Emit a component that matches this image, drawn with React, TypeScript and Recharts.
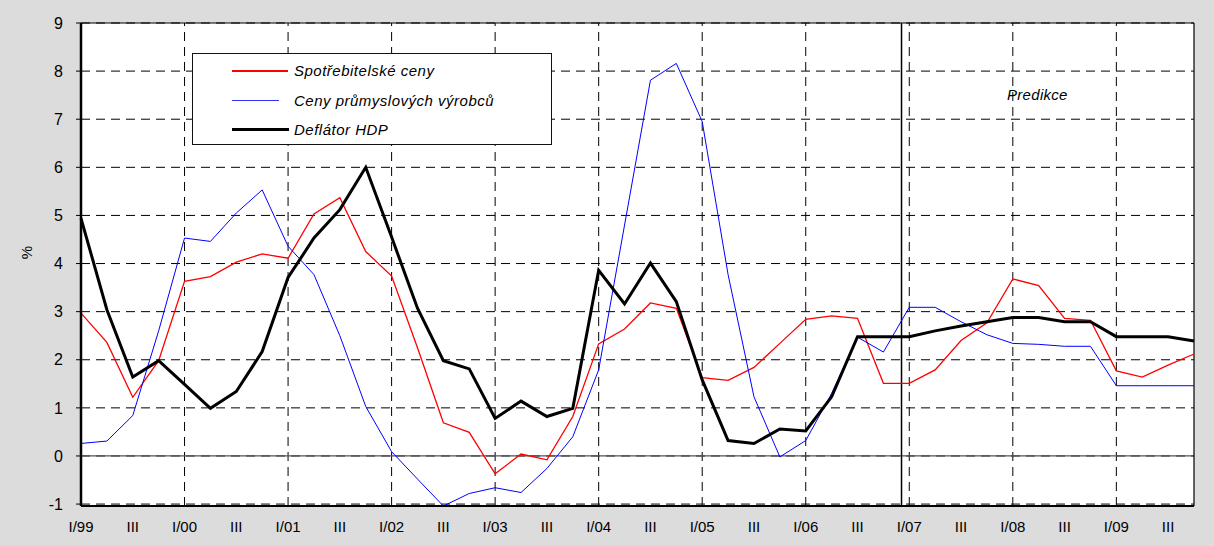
import React from "react";
import {
  LineChart, Line, XAxis, YAxis, CartesianGrid, ReferenceLine
} from "recharts";

// quarters I/99 .. IV/09
const quarterIdx = Array.from({ length: 44 }, (_, i) => i);
const years = ["99", "00", "01", "02", "03", "04", "05", "06", "07", "08", "09"];
const xTicks = [0, 2, 4, 6, 8, 10, 12, 14, 16, 18, 20, 22, 24, 26, 28, 30, 32, 34, 36, 38, 40, 42];
const yearLines = [4, 8, 12, 16, 20, 24, 28, 32, 36, 40];
const yTicks = [-1, 0, 1, 2, 3, 4, 5, 6, 7, 8, 9];
const forecastStart = 31.7;

const spotrebitelske = [
  2.97, 2.36, 1.22, 1.98, 3.63, 3.73, 4.03, 4.2, 4.11, 5.03, 5.37,
  4.25, 3.74, 2.25, 0.69, 0.49, -0.37, 0.04, -0.08, 0.82, 2.33,
  2.64, 3.18, 3.07, 1.63, 1.57, 1.84, 2.34, 2.84, 2.91, 2.86,
  1.51, 1.51, 1.79, 2.4, 2.77, 3.68, 3.54, 2.86, 2.82, 1.77, 1.64, 1.89, 2.12,
];
const prumyslove = [
  0.26, 0.31, 0.84, 2.6, 4.53, 4.46, 5.05, 5.53, 4.36, 3.77, 2.5,
  1.03, 0.09, -0.48, -1.04, -0.78, -0.66, -0.76, -0.26, 0.4, 1.79,
  4.8, 7.81, 8.16, 6.95, 3.77, 1.23, -0.02, 0.32, 1.3, 2.47,
  2.16, 3.09, 3.09, 2.79, 2.52, 2.34, 2.32, 2.28, 2.28, 1.46, 1.46, 1.46, 1.46,
];
const deflator = [
  4.94, 3.04, 1.64, 1.98, 1.49, 0.99, 1.34, 2.17, 3.71, 4.53, 5.12,
  6.0, 4.55, 3.07, 1.98, 1.81, 0.78, 1.14, 0.82, 0.99, 3.86,
  3.16, 4.01, 3.21, 1.58, 0.32, 0.26, 0.56, 0.52, 1.23, 2.48,
  2.48, 2.48, 2.6, 2.7, 2.79, 2.88, 2.88, 2.79, 2.79, 2.48, 2.48, 2.48, 2.39,
];

const data = quarterIdx.map((i) => ({
  i,
  cpi: spotrebitelske[i],
  ppi: prumyslove[i],
  hdp: deflator[i],
}));

const tickLabel = (i: number) =>
  i % 4 === 0 ? `I/${years[i / 4]}` : "III";

const FONT = "'Liberation Sans', Arial, sans-serif";

const XTick = (props: any) => {
  const { x, y, payload } = props;
  return (
    <text x={x} y={y + 18} textAnchor="middle" fontSize={15} fontFamily={FONT} fill="#000">
      {tickLabel(payload.value)}
    </text>
  );
};

const legendItems = [
  { name: "Spotřebitelské ceny", color: "#ff0000", w: 1.5, len: 56 },
  { name: "Ceny průmyslových výrobců", color: "#3333ff", w: 1.5, len: 47 },
  { name: "Deflátor HDP", color: "#000000", w: 3, len: 57 },
];

const LegendBox = () => (
  <div
    style={{
      position: "absolute", left: 192, top: 53,
      width: 360, height: 92, border: "1px solid #111", background: "#fff",
      boxSizing: "border-box", paddingTop: 2, fontFamily: FONT,
    }}
  >
    {legendItems.map((it) => (
      <div key={it.name} style={{ display: "flex", alignItems: "center", height: 29.5 }}>
        <div style={{ width: 39 }} />
        <div style={{ width: 62 }}>
          <div style={{ width: it.len, height: it.w, background: it.color }} />
        </div>
        <span style={{ fontStyle: "italic", fontSize: 15, letterSpacing: 0.5, color: "#000" }}>
          {it.name}
        </span>
      </div>
    ))}
  </div>
);

export default function App() {
  return (
    <div style={{ position: "fixed", left: 0, top: 0, width: 1214, height: 546, background: "#dcdcdc", overflow: "hidden" }}>
      <div style={{ position: "absolute", left: 0, top: 0 }}>
        <LineChart width={1214} height={546} data={data} margin={{ top: 23, right: 20, bottom: 10, left: 0 }}>
          <CartesianGrid fill="#ffffff" vertical={false} stroke="#000" strokeDasharray="9 6" />
          <XAxis
            dataKey="i" type="number" domain={[0, 43]} ticks={xTicks} interval={0} height={30}
            tick={<XTick />} tickLine={false} axisLine={{ stroke: "#000", strokeWidth: 2 }}
          />
          <YAxis
            width={81} domain={[-1, 9]} ticks={yTicks} interval={0}
            tick={{ fontSize: 16, fontFamily: FONT, fill: "#000" }}
            tickSize={5} tickMargin={13} tickLine={{ stroke: "#000" }}
            axisLine={{ stroke: "#000", strokeWidth: 2.5 }}
          />
          {yearLines.map((x) => (
            <ReferenceLine key={x} x={x} stroke="#000" strokeDasharray="9 6" />
          ))}
          <ReferenceLine y={0} stroke="#555" strokeWidth={1.2} />
          <ReferenceLine y={9} stroke="#000" strokeWidth={1.2} />
          <ReferenceLine x={43} stroke="#000" strokeWidth={1.2} />
          <ReferenceLine x={forecastStart} stroke="#000" strokeWidth={1.5} />
          <Line type="linear" dataKey="cpi" name="Spotřebitelské ceny" stroke="#ff0000" strokeWidth={1.3} dot={false} isAnimationActive={false} />
          <Line type="linear" dataKey="ppi" name="Ceny průmyslových výrobců" stroke="#0000ff" strokeWidth={1} dot={false} isAnimationActive={false} />
          <Line type="linear" dataKey="hdp" name="Deflátor HDP" stroke="#000000" strokeWidth={3} dot={false} isAnimationActive={false} />
        </LineChart>
      </div>
      <LegendBox />
      <div style={{ position: "absolute", left: 20, top: 244, fontFamily: FONT, fontSize: 15, transform: "rotate(-90deg)" }}>%</div>
      <div style={{ position: "absolute", left: 1007, top: 86, fontFamily: FONT, fontSize: 15, fontStyle: "italic", letterSpacing: 0.3 }}>Predikce</div>
    </div>
  );
}
